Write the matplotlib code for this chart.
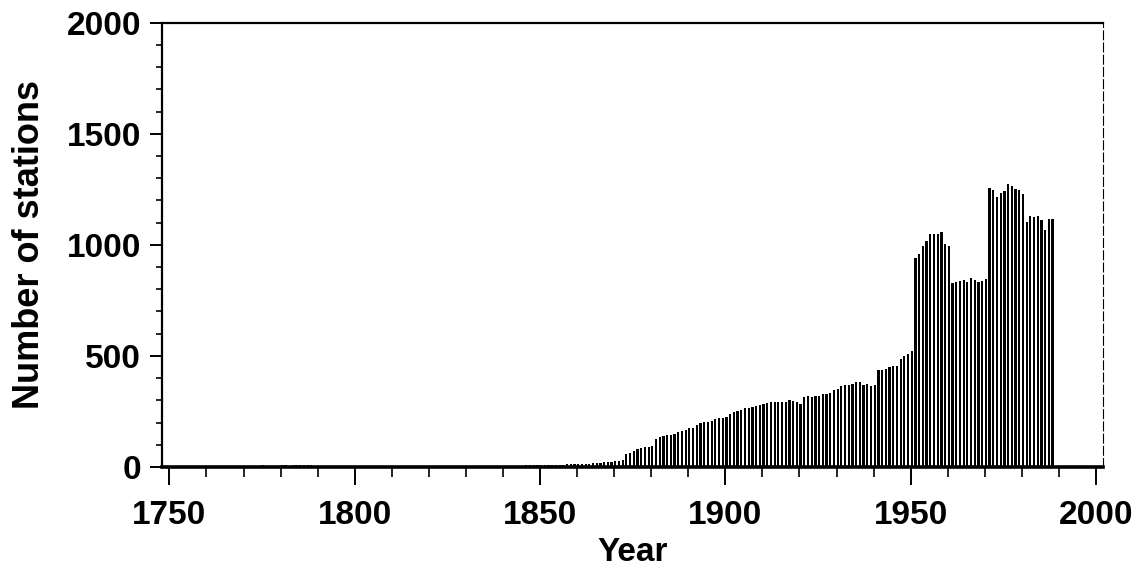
"""
Number of stations per year, 1750-1988 (bar chart).
"""

import matplotlib

matplotlib.use("Agg")
import matplotlib.pyplot as plt
from matplotlib.ticker import MultipleLocator

plt.rcParams["font.family"] = ["Liberation Sans", "DejaVu Sans"]
plt.rcParams["font.weight"] = "bold"

# one bar per year
YEARS = list(range(1750, 1989))

# 1750-1865: barely above the baseline
EARLY_COUNTS = [
    6, 6, 5, 6, 6, 5, 6, 6, 6, 5,
    6, 6, 6, 5, 6, 6, 6, 6, 5, 6,
    6, 6, 6, 6, 6, 7, 6, 6, 6, 6,
    7, 7, 6, 7, 7, 7, 7, 7, 7, 6,
    5, 5, 5, 5, 4, 4, 4, 4, 4, 4,
    3, 3, 3, 3, 3, 3, 3, 3, 3, 3,
    4, 4, 4, 4, 4, 4, 4, 4, 4, 4,
    4, 4, 5, 5, 5, 5, 4, 4, 4, 4,
    4, 4, 4, 4, 4, 5, 5, 5, 5, 5,
    5, 5, 5, 5, 5, 6, 7, 8, 8, 9,
    9, 9, 10, 10, 10, 11, 11, 12, 12, 13,
    13, 14, 14, 15, 16, 17,
]

# 1866-1988
LATE_COUNTS = [
    18, 21, 23, 24,                                  # 1866-1869
    26, 29, 32, 57, 62, 74, 80, 87, 92, 92,          # 1870s
    96, 126, 135, 141, 143, 144, 150, 156, 162, 168,  # 1880s
    176, 177, 189, 197, 201, 204, 209, 216, 221, 221,  # 1890s
    227, 239, 246, 254, 255, 264, 267, 272, 273, 279,  # 1900s
    285, 288, 291, 294, 294, 294, 291, 302, 297, 291,  # 1910s
    285, 317, 318, 317, 318, 321, 329, 329, 333, 347,  # 1920s
    351, 363, 369, 371, 372, 381, 381, 369, 372, 366,  # 1930s
    370, 438, 438, 443, 449, 453, 453, 486, 499, 510,  # 1940s
    520, 943, 959, 997, 1019, 1050, 1050, 1050, 1057, 1005,  # 1950s
    997, 829, 835, 839, 844, 835, 853, 844, 835, 839,  # 1960s
    847, 1255, 1249, 1215, 1233, 1242, 1272, 1267, 1252, 1245,  # 1970s
    1230, 1102, 1129, 1125, 1129, 1110, 1068, 1117, 1117,  # 1980-1988
]

STATIONS = EARLY_COUNTS + LATE_COUNTS


def main() -> None:
    fig = plt.figure(figsize=(11.41, 5.83), dpi=100)
    ax = fig.add_axes([0.142, 0.199, 0.825, 0.762])

    ax.bar(YEARS, STATIONS, width=0.6, align="edge", color="black",
           linewidth=0)

    ax.set_xlim(1748, 2002)
    ax.set_ylim(0, 2000)

    ax.xaxis.set_major_locator(MultipleLocator(50))
    ax.xaxis.set_minor_locator(MultipleLocator(10))
    ax.yaxis.set_major_locator(MultipleLocator(500))
    ax.yaxis.set_minor_locator(MultipleLocator(100))

    ax.tick_params(axis="x", which="major", direction="out", length=13,
                   width=1.4, labelsize=24, pad=11)
    ax.tick_params(axis="x", which="minor", direction="out", length=7,
                   width=1.2)
    ax.tick_params(axis="y", which="major", direction="out", length=9,
                   width=1.4, labelsize=24, pad=6)
    ax.tick_params(axis="y", which="minor", direction="out", length=4,
                   width=1.2)
    for lab in ax.get_xticklabels() + ax.get_yticklabels():
        lab.set_fontweight("bold")

    ax.spines["bottom"].set_linewidth(2.6)
    ax.spines["left"].set_linewidth(1.6)
    ax.spines["top"].set_linewidth(1.6)
    ax.spines["right"].set_linewidth(0.8)
    ax.spines["right"].set_linestyle((0, (8, 3)))

    ax.set_xlabel("Year", fontsize=24, fontweight="bold", labelpad=4)
    ax.set_ylabel("Number of stations", fontsize=26, fontweight="bold",
                  labelpad=14)

    fig.savefig("out.png", dpi=100)


if __name__ == "__main__":
    main()
